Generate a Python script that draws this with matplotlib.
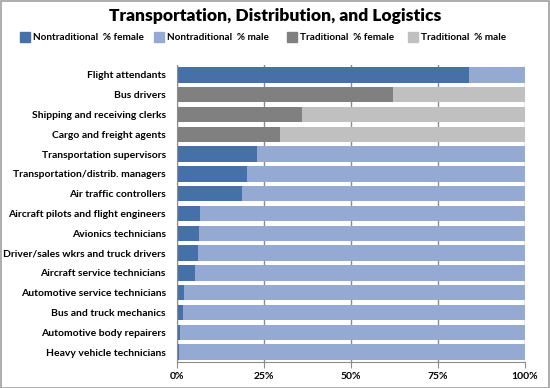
import matplotlib.pyplot as plt
from matplotlib.patches import Rectangle

# occupations, top to bottom
jobs = ['Flight attendants', 'Bus drivers', 'Shipping and receiving clerks',
        'Cargo and freight agents', 'Transportation supervisors',
        'Transportation/distrib. managers', 'Air traffic controllers',
        'Aircraft pilots and flight engineers', 'Avionics technicians',
        'Driver/sales wkrs and truck drivers', 'Aircraft service technicians',
        'Automotive service technicians', 'Bus and truck mechanics',
        'Automotive body repairers', 'Heavy vehicle technicians']
# percent female
female = [84.0, 62.0, 35.9, 29.6, 23.1, 20.1, 18.8, 6.6, 6.3, 6.0, 5.2,
          1.9, 1.6, 0.9, 0.5]
traditional = [False, True, True, True, False, False, False, False, False,
               False, False, False, False, False, False]

series = ['Nontraditional  % female', 'Nontraditional  % male',
          'Traditional  % female', 'Traditional  % male']
colors = ['#4571A8', '#94AAD3', '#808080', '#C0C0C0']

plt.rcParams['font.family'] = ['Lato', 'DejaVu Sans']

fig = plt.figure(figsize=(5.5, 3.88), dpi=100)
ax = fig.add_axes([177 / 550, 1 - 362 / 388, 348 / 550, 297 / 388])

y = list(range(len(jobs)))
male = [100 - f for f in female]
fcol = [colors[2] if t else colors[0] for t in traditional]
mcol = [colors[3] if t else colors[1] for t in traditional]
ax.barh(y, female, height=0.78, color=fcol, zorder=2)
ax.barh(y, male, left=female, height=0.78, color=mcol, zorder=2)

ax.set_xlim(0, 100)
ax.set_ylim(len(jobs) - 0.5, -0.5)
ax.set_yticks(y)
ax.set_yticklabels(jobs, fontsize=7.5, fontweight='bold')
ax.set_xticks([0, 25, 50, 75, 100])
ax.set_xticklabels(['0%', '25%', '50%', '75%', '100%'], fontsize=7.5,
                   fontweight='bold')
ax.tick_params(axis='y', length=0, pad=8)
ax.tick_params(axis='x', direction='out', length=4, color='#8C8C8C', pad=3)
ax.grid(axis='x', color='#8C8C8C', linewidth=1, zorder=0)
for s in ['top', 'right']:
    ax.spines[s].set_visible(False)
for s in ['left', 'bottom']:
    ax.spines[s].set_color('#8C8C8C')

fig.text(0.5, 1 - 16 / 388, 'Transportation, Distribution, and Logistics',
         ha='center', va='center', fontsize=12.5, fontweight='heavy')

# legend
lx = [20, 154, 287, 408]
for x0, name, c in zip(lx, series, colors):
    fig.patches.append(Rectangle((x0 / 550, 1 - 42 / 388), 10 / 550, 10 / 388,
                                 transform=fig.transFigure, color=c))
    fig.text((x0 + 13) / 550, 1 - 37 / 388, name, ha='left', va='center',
             fontsize=7.2, fontweight='bold')

fig.patches.append(Rectangle((0.001, 0.001), 0.997, 0.997, transform=fig.transFigure,
                             fill=False, edgecolor='#A0A0A0', linewidth=1.2))

fig.savefig('out.png', dpi=100)
